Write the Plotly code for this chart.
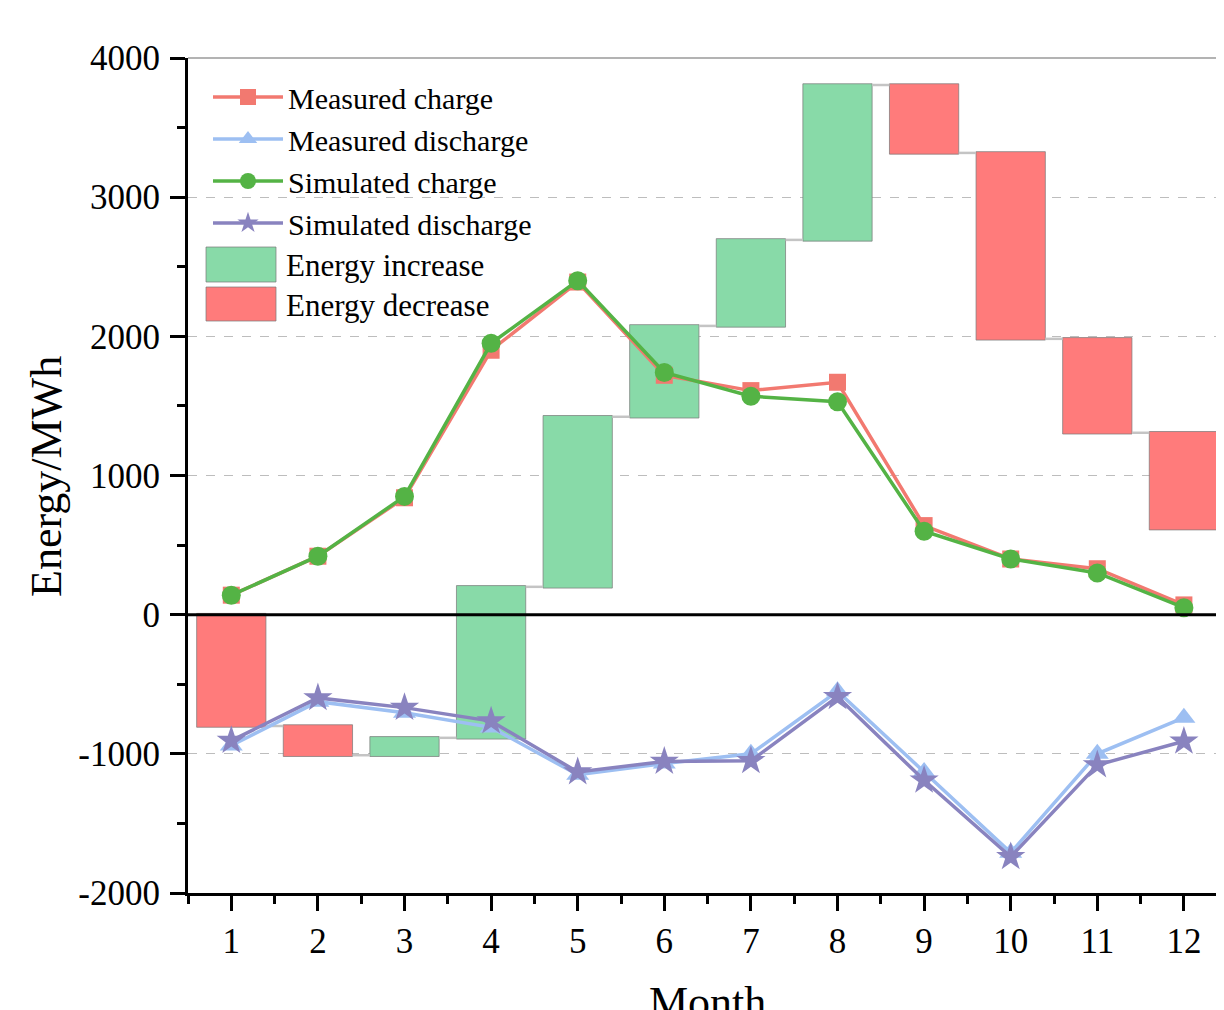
import plotly.graph_objects as go

months = list(range(1, 13))
month_labels = [str(m) for m in months]

# Monthly net change of stored energy (waterfall deltas), MWh
net_change = [-800, -210, 125, 1085, 1222, 653, 618, 1113, -488, -1336, -675, -689]

measured_charge = [140, 420, 840, 1900, 2390, 1720, 1610, 1670, 640, 400, 330, 70]
simulated_charge = [140, 420, 850, 1950, 2400, 1740, 1570, 1530, 600, 400, 300, 50]
measured_discharge = [-940, -625, -705, -810, -1150, -1070, -1000, -550, -1130, -1710, -1000, -740]
simulated_discharge = [-905, -598, -668, -765, -1130, -1055, -1050, -590, -1190, -1740, -1080, -910]

y_ticks = [-2000, -1000, 0, 1000, 2000, 3000, 4000]
y_tick_labels = ["-2000", "-1000", "0", "1000", "2000", "3000", "4000"]

FONT = "Liberation Serif"
C_MC = "#F27970"
C_MD = "#9DBFF2"
C_SC = "#54B345"
C_SD = "#8983BF"
C_INC = "#88DAA8"
C_DEC = "#FF7B7B"

fig = go.Figure()

fig.add_trace(go.Waterfall(
    x=months, y=net_change, measure=["relative"] * len(months), base=0,
    width=0.8, textinfo="none", showlegend=False,
    increasing=dict(marker=dict(color=C_INC, line=dict(color="rgba(120,120,120,0.7)", width=1))),
    decreasing=dict(marker=dict(color=C_DEC, line=dict(color="rgba(120,120,120,0.7)", width=1))),
    connector=dict(mode="between", line=dict(color="#C4C4C4", width=2.5)),
))

line_specs = [
    ("Measured charge", measured_charge, C_MC, "square", 17),
    ("Measured discharge", measured_discharge, C_MD, "triangle-up", 20),
    ("Simulated charge", simulated_charge, C_SC, "circle", 19),
    ("Simulated discharge", simulated_discharge, C_SD, "star", 22),
]
for name, vals, col, sym, size in line_specs:
    fig.add_trace(go.Scatter(
        x=months, y=vals, name=name, mode="lines+markers",
        line=dict(color=col, width=3.5),
        marker=dict(symbol=sym, size=size, color=col, line=dict(width=0)),
    ))

# page body adds an 8px offset; the figure is placed so the plot area lands
# at the reference screen position (left 188, top 58, bottom 893)
OFF = 8
W, H = 1224, 1010
L, T = 188 - OFF, 58 - OFF
B = H - (893 - OFF)
R = 0
PW, PH = W - L - R, H - T - B
step = 86.6
x_lo = 0.5
x_hi = x_lo + PW / step


def px(xp):
    return (xp - OFF - L) / PW


def py(yp):
    return (H - B - (yp - OFF)) / PH


shapes = [
    dict(type="line", xref="paper", yref="paper", x0=0, x1=1, y0=1, y1=1,
         line=dict(color="#9A9A9A", width=1.5), layer="above"),
    dict(type="line", xref="paper", yref="y", x0=0, x1=1, y0=0, y1=0,
         line=dict(color="black", width=3), layer="above"),
    # legend swatches for the waterfall boxes
    dict(type="rect", xref="paper", yref="paper", x0=px(206), x1=px(276), y0=py(282), y1=py(247),
         fillcolor=C_INC, line=dict(color="rgba(120,120,120,0.7)", width=1), layer="above"),
    dict(type="rect", xref="paper", yref="paper", x0=px(206), x1=px(276), y0=py(321), y1=py(287),
         fillcolor=C_DEC, line=dict(color="rgba(120,120,120,0.7)", width=1), layer="above"),
]

annotations = [
    dict(text="Energy increase", xref="paper", yref="paper", x=px(284), y=py(265),
         xanchor="left", yanchor="middle", showarrow=False, font=dict(family=FONT, size=31, color="black")),
    dict(text="Energy decrease", xref="paper", yref="paper", x=px(284), y=py(305),
         xanchor="left", yanchor="middle", showarrow=False, font=dict(family=FONT, size=31, color="black")),
    dict(text="Energy/MWh", xref="paper", yref="paper", x=px(47), y=py(477), textangle=-90,
         xanchor="center", yanchor="middle", showarrow=False, font=dict(family=FONT, size=44, color="black")),
    dict(text="Month", xref="paper", yref="paper", x=px(707), y=py(976),
         xanchor="center", yanchor="top", showarrow=False, font=dict(family=FONT, size=44, color="black")),
]

fig.update_layout(
    width=W, height=H,
    margin=dict(l=L, r=R, t=T, b=B, pad=0),
    paper_bgcolor="white", plot_bgcolor="white",
    font=dict(family=FONT, size=35, color="black"),
    shapes=shapes, annotations=annotations,
    legend=dict(x=px(208), y=py(71), xanchor="left", yanchor="top",
                font=dict(family=FONT, size=30), bgcolor="rgba(0,0,0,0)",
                itemwidth=70, tracegroupgap=0),
    xaxis=dict(range=[x_lo, x_hi], tickvals=months, ticktext=month_labels,
               showgrid=False, zeroline=False, showline=True, linecolor="black", linewidth=3,
               ticks="outside", ticklen=15, tickwidth=2.5, tickcolor="black",
               minor=dict(tick0=0.5, dtick=1, ticks="outside", ticklen=8, tickwidth=2.5,
                          tickcolor="black", showgrid=False),
               tickfont=dict(family=FONT, size=35), ticklabelstandoff=0),
    yaxis=dict(range=[-2000, 4000], tickvals=y_ticks, ticktext=y_tick_labels,
               showgrid=True, gridcolor="#BDBDBD",
               griddash="dash", gridwidth=1, zeroline=False,
               showline=True, linecolor="black", linewidth=3,
               ticks="outside", ticklen=15, tickwidth=2.5, tickcolor="black",
               minor=dict(dtick=500, ticks="outside", ticklen=8, tickwidth=2.5,
                          tickcolor="black", showgrid=False),
               tickfont=dict(family=FONT, size=35), ticklabelstandoff=3),
)

fig.write_html("out.html")
